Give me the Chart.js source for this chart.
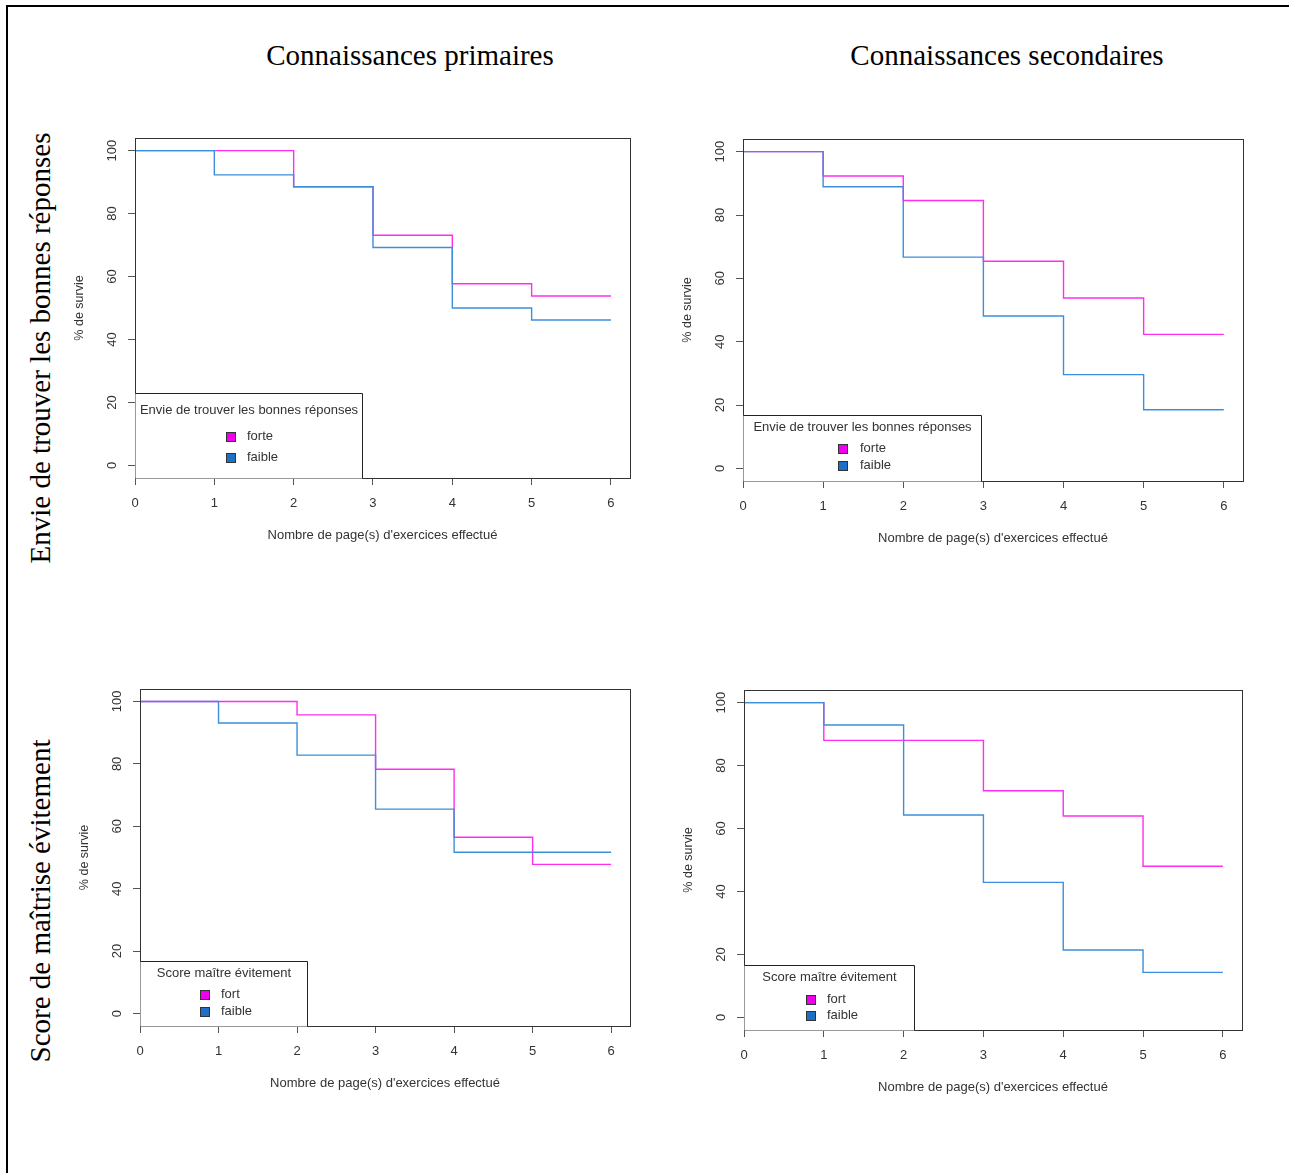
<!DOCTYPE html>
<html>
<head>
<meta charset="utf-8">
<script src="https://cdn.jsdelivr.net/npm/chart.js@4"></script>
<style>
  body { margin: 0; background: #fff; width: 1289px; height: 1173px; overflow: hidden; position: relative; }
  #frame { position: absolute; left: 6px; top: 5px; width: 1400px; height: 1300px;
           border-top: 2px solid #000; border-left: 2px solid #000; }
  .coltitle, .rowtitle { position: absolute; font-family: "Liberation Serif", "Times New Roman", serif;
           font-size: 29px; color: #000; white-space: nowrap; }
  .coltitle { transform: translate(-50%, -50%); }
  .rowtitle { transform: translate(-50%, -50%) rotate(-90deg); }
  canvas { position: absolute; }
</style>
</head>
<body>
<div id="frame"></div>

<script>
// x = nombre de pages, survie en % at each page count (step holds until next page)
const pages = [0, 1, 2, 3, 4, 5, 6];
const xTicks = [0, 1, 2, 3, 4, 5, 6];
const yTicks = [0, 20, 40, 60, 80, 100];

// Envie de trouver les bonnes réponses - connaissances primaires
const envPrimForte  = [100, 100, 88.5, 73.1, 57.7, 53.8, 53.8];
const envPrimFaible = [100, 92.3, 88.5, 69.2, 50.0, 46.2, 46.2];
// Envie de trouver les bonnes réponses - connaissances secondaires
const envSecForte   = [100, 92.3, 84.6, 65.4, 53.8, 42.3, 42.3];
const envSecFaible  = [100, 88.9, 66.7, 48.1, 29.6, 18.5, 18.5];
// Score maître évitement - connaissances primaires
const scoPrimFort   = [100, 100, 95.7, 78.3, 56.5, 47.8, 47.8];
const scoPrimFaible = [100, 93.1, 82.8, 65.5, 51.7, 51.7, 51.7];
// Score maître évitement - connaissances secondaires
const scoSecFort    = [100, 88.0, 88.0, 72.0, 64.0, 48.0, 48.0];
const scoSecFaible  = [100, 92.9, 64.3, 42.9, 21.4, 14.3, 14.3];

const colTitles = ["Connaissances primaires", "Connaissances secondaires"];
const rowTitles = ["Envie de trouver les bonnes réponses", "Score de maîtrise évitement"];
const legTitles = ["Envie de trouver les bonnes réponses", "Score maître évitement"];
const legLabels = [["forte", "faible"], ["fort", "faible"]];
const xTitle = "Nombre de page(s) d'exercices effectué";
const yTitle = "% de survie";

const pink = "#ff2ef0";
const blue = "#3d8fdb";

// headings
function addText(cls, txt, x, y) {
  const d = document.createElement("div");
  d.className = cls;
  d.textContent = txt;
  d.style.left = x + "px";
  d.style.top = y + "px";
  document.body.appendChild(d);
}
addText("coltitle", colTitles[0], 410, 55);
addText("coltitle", colTitles[1], 1007, 55);
addText("rowtitle", rowTitles[0], 40, 348);
addText("rowtitle", rowTitles[1], 40, 901);

Chart.defaults.font.family = '"Liberation Sans", Arial, sans-serif';
Chart.defaults.color = "#333";

// R-like box, rotated y labels and legend
const rPlot = {
  id: "rPlot",
  afterDatasetsDraw(chart, args, o) {
    const ctx = chart.ctx, a = chart.chartArea;
    ctx.save();
    ctx.strokeStyle = "#333";
    ctx.lineWidth = 1;
    const L = Math.round(a.left) + 0.5, T = Math.round(a.top) + 0.5;
    const R = Math.round(a.right) + 0.5, B = Math.round(a.bottom) + 0.5;
    ctx.strokeRect(L, T, R - L, B - T);

    // y tick labels, parallel to the axis
    const ys = chart.scales.y;
    ctx.fillStyle = "#333";
    ctx.font = '13px "Liberation Sans", Arial, sans-serif';
    ctx.textAlign = "center";
    ctx.textBaseline = "middle";
    ys.ticks.forEach(t => {
      const py = ys.getPixelForValue(t.value);
      ctx.save();
      ctx.translate(a.left - 23, py);
      ctx.rotate(-Math.PI / 2);
      ctx.fillText(String(t.value), 0, 0);
      ctx.restore();
    });

    // legend
    const lg = o.leg;
    const lt = Math.round(a.bottom - lg.h) + 0.5;
    const lr = Math.round(a.left + lg.w) + 0.5;
    ctx.fillStyle = "#fff";
    ctx.fillRect(L, lt, lr - L, B - lt);
    ctx.beginPath();
    ctx.moveTo(L, lt); ctx.lineTo(lr, lt); ctx.lineTo(lr, B);
    ctx.strokeStyle = "#222";
    ctx.stroke();
    ctx.fillStyle = "#333";
    ctx.textAlign = "center";
    ctx.fillText(o.title, (L + lr) / 2, lt + lg.ty);
    const fills = ["#ee00ee", "#1f6fc4"];
    [lg.i1, lg.i2].forEach((dy, i) => {
      const cx = a.left + lg.sx, cy = lt + dy;
      ctx.fillStyle = fills[i];
      ctx.fillRect(Math.round(cx - 5), Math.round(cy - 5), 10, 10);
      ctx.strokeStyle = "#333";
      ctx.strokeRect(Math.round(cx - 5) + 0.5, Math.round(cy - 5) + 0.5, 9, 9);
      ctx.fillStyle = "#333";
      ctx.textAlign = "left";
      ctx.fillText(o.labels[i], a.left + lg.tx, cy);
    });
    ctx.restore();
  }
};

const panels = [
  { left: 60,  top: 120, w: 590, h: 440, yW: 75, xH: 82, pt: 18, pr: 20,
    forte: envPrimForte, faible: envPrimFaible, kind: 0,
    leg: { w: 227, h: 85, ty: 17, i1: 43, i2: 64, sx: 96, tx: 112 } },
  { left: 670, top: 120, w: 600, h: 440, yW: 73, xH: 79, pt: 19, pr: 27,
    forte: envSecForte, faible: envSecFaible, kind: 0,
    leg: { w: 238, h: 66, ty: 12, i1: 33, i2: 50, sx: 100, tx: 117 } },
  { left: 60,  top: 670, w: 590, h: 440, yW: 80, xH: 84, pt: 19, pr: 20,
    forte: scoPrimFort, faible: scoPrimFaible, kind: 1,
    leg: { w: 167, h: 65, ty: 12, i1: 33, i2: 50, sx: 65, tx: 81 } },
  { left: 670, top: 670, w: 600, h: 440, yW: 74, xH: 80, pt: 20, pr: 28,
    forte: scoSecFort, faible: scoSecFaible, kind: 1,
    leg: { w: 170, h: 65, ty: 12, i1: 34, i2: 50, sx: 67, tx: 83 } }
];

panels.forEach(p => {
  const cv = document.createElement("canvas");
  cv.width = p.w; cv.height = p.h;
  cv.style.left = p.left + "px"; cv.style.top = p.top + "px";
  cv.style.width = p.w + "px"; cv.style.height = p.h + "px";
  document.body.appendChild(cv);

  const labels = legLabels[p.kind];
  new Chart(cv.getContext("2d"), {
    type: "line",
    data: {
      datasets: [
        { label: labels[1], data: pages.map((x, i) => ({ x: x, y: p.faible[i] })),
          borderColor: blue, borderWidth: 1.4, stepped: "before", pointRadius: 0, order: 0 },
        { label: labels[0], data: pages.map((x, i) => ({ x: x, y: p.forte[i] })),
          borderColor: pink, borderWidth: 1.4, stepped: "before", pointRadius: 0, order: 1 }
      ]
    },
    options: {
      responsive: false,
      animation: false,
      devicePixelRatio: 1,
      layout: { padding: { left: 0, top: p.pt, right: p.pr, bottom: 0 } },
      plugins: {
        legend: { display: false },
        tooltip: { enabled: false },
        rPlot: { title: legTitles[p.kind], labels: labels, leg: p.leg }
      },
      scales: {
        x: {
          type: "linear", min: 0, max: 6.24,
          afterBuildTicks: s => { s.ticks = xTicks.map(v => ({ value: v })); },
          afterFit: s => { s.height = p.xH; },
          grid: { drawOnChartArea: false, tickLength: 7, color: "#555" },
          border: { color: "#333" },
          ticks: { padding: 11, font: { size: 13 }, color: "#333", maxRotation: 0 },
          title: { display: true, text: xTitle, font: { size: 13 }, color: "#333",
                   padding: { top: 0, bottom: p.xH - 57 - 7.8 } }
        },
        y: {
          type: "linear", min: -4, max: 104,
          afterBuildTicks: s => { s.ticks = yTicks.map(v => ({ value: v })); },
          afterFit: s => { s.width = p.yW; },
          grid: { drawOnChartArea: false, tickLength: 7, color: "#555" },
          border: { color: "#333" },
          ticks: { color: "rgba(0,0,0,0)", font: { size: 13 } },
          title: { display: true, text: yTitle, font: { size: 12.5 }, color: "#333",
                   padding: { top: p.yW - 55 - 7.5, bottom: 0 } }
        }
      }
    },
    plugins: [rPlot]
  });
});
</script>
</body>
</html>
